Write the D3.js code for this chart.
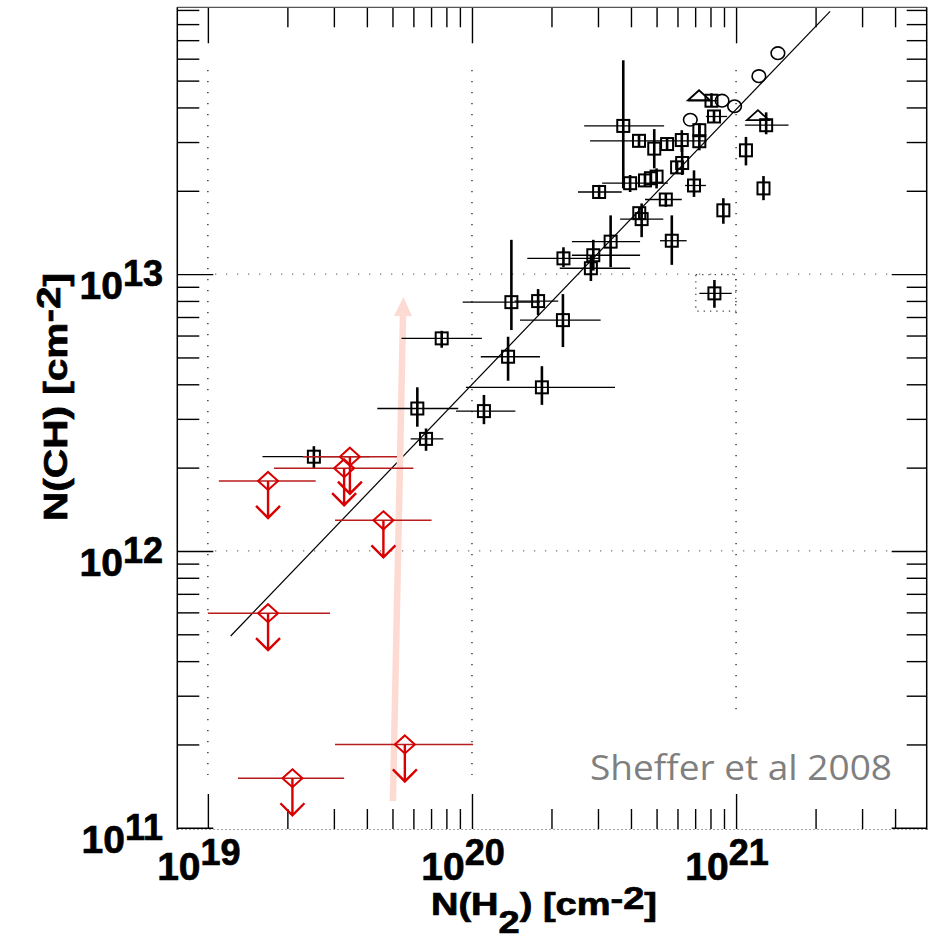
<!DOCTYPE html>
<html>
<head>
<meta charset="utf-8">
<script src="https://cdn.jsdelivr.net/npm/d3@7"></script>
<style>
  body { margin: 0; background: #fff; }
  svg { display: block; }
  text { font-family: "Liberation Sans", Arial, sans-serif; }
  .heavy { stroke: #000; stroke-width: 0.7px; }
</style>
</head>
<body>
<svg id="chart" width="934" height="941"></svg>
<script>
// N(CH) against N(H2), after Sheffer et al 2008

// detections: [N(H2), N(CH), xlo, xhi, ylo, yhi]  (null = no bar)
const detections = [
  [2.52e19, 2.19e12, 1.61e19, 4.11e19, 1.99e12, 2.39e12],
  [6.70e19, 2.54e12, 5.86e19, 7.79e19, 2.30e12, 2.77e12],
  [6.21e19, 3.27e12, 4.38e19, 8.87e19, 2.81e12, 3.90e12],
  [1.11e20, 3.20e12, 8.70e19, 1.46e20, 2.87e12, 3.66e12],
  [7.68e19, 5.86e12, 5.41e19, 1.09e20, 5.42e12, 6.24e12],
  [1.37e20, 5.03e12, 1.08e20, 1.81e20, 4.12e12, 5.94e12],
  [1.41e20, 7.92e12, 9.22e19, 1.81e20, 6.28e12, 1.33e13],
  [1.78e20, 7.99e12, 1.45e20, 2.12e20, 7.11e12, 8.83e12],
  [2.21e20, 6.82e12, 1.52e20, 3.07e20, 5.45e12, 8.47e12],
  [1.84e20, 3.90e12, 9.49e19, 3.48e20, 3.37e12, 4.65e12],
  [2.22e20, 1.14e13, 1.62e20, 3.05e20, 1.06e13, 1.25e13],
  [2.88e20, 1.17e13, 2.39e20, 4.33e20, 1.03e13, 1.33e13],
  [2.82e20, 1.05e13, 2.15e20, 3.97e20, 9.44e12, 1.17e13],
  [3.35e20, 1.31e13, 2.39e20, 4.33e20, 1.06e13, 1.63e13],
  [5.71e20, 1.32e13, 5.15e20, 6.50e20, 1.08e13, 1.63e13],
  [4.39e20, 1.58e13, 3.64e20, 5.30e20, 1.36e13, 1.80e13],
  [4.30e20, 1.66e13, null, null, null, null],
  [5.42e20, 1.86e13, 4.52e20, 6.23e20, 1.75e13, 1.96e13],
  [6.93e20, 2.09e13, 6.41e20, 7.69e20, 1.90e13, 2.37e13],
  [3.03e20, 1.98e13, 2.52e20, 3.69e20, 1.88e13, 2.10e13],
  [3.97e20, 2.13e13, 3.11e20, 5.52e20, 1.98e13, 2.28e13],
  [4.52e20, 2.18e13, null, null, 2.08e13, 2.28e13],
  [4.76e20, 2.22e13, null, null, 2.12e13, 2.32e13],
  [5.00e20, 2.25e13, null, null, 2.04e13, 2.41e13],
  [3.74e20, 3.43e13, 2.66e20, 5.34e20, 2.04e13, 5.92e13],
  [4.29e20, 3.03e13, 2.80e20, 7.74e20, null, null],
  [4.90e20, 2.84e13, null, null, 2.41e13, 3.34e13],
  [5.48e20, 2.95e13, null, null, 2.80e13, 3.10e13],
  [6.23e20, 3.05e13, null, null, 2.76e13, 3.31e13],
  [7.26e20, 3.02e13, null, null, 2.80e13, 3.51e13],
  [7.26e20, 3.31e13, null, null, 3.15e13, 3.48e13],
  [8.25e20, 3.71e13, 7.69e20, 9.25e20, 3.55e13, 3.88e13],
  [8.07e20, 4.23e13, 6.58e20, 8.50e20, 4.04e13, 4.50e13],
  [6.25e20, 2.52e13, null, null, 2.28e13, 2.87e13],
  [5.98e20, 2.43e13, null, null, 2.35e13, 2.52e13],
  [1.09e21, 2.80e13, null, null, 2.47e13, 3.13e13],
  [1.27e21, 2.04e13, null, null, 1.85e13, 2.26e13],
  [1.30e21, 3.45e13, 1.08e21, 1.58e21, 3.20e13, 3.84e13],
  [8.95e20, 1.70e13, null, null, 1.52e13, 1.88e13],
  [8.28e20, 8.52e12, 7.26e20, 9.63e20, 7.56e12, 9.52e12]
];

// open circles (no bars)
const circles = [
  [1.44e21, 6.28e13],
  [1.22e21, 5.19e13],
  [9.87e20, 4.04e13],
  [8.85e20, 4.23e13],
  [6.71e20, 3.61e13]
];

// open triangles
const triangles = [
  [7.24e20, 4.39e13],
  [1.21e21, 3.72e13]
];

// upper limits: [N(H2), N(CH) limit, xlo, xhi]
const upperLimits = [
  [1.69e19, 1.79e12, 1.10e19, 2.56e19],
  [3.45e19, 2.19e12, 2.29e19, 5.20e19],
  [3.28e19, 1.99e12, 1.78e19, 6.00e19],
  [4.62e19, 1.29e12, 3.03e19, 7.03e19],
  [1.69e19, 5.96e11, 1.00e19, 2.90e19],
  [5.57e19, 2.00e11, 3.03e19, 1.01e20],
  [2.09e19, 1.51e11, 1.30e19, 3.28e19]
];

const fitLine = [[1.22e19, 4.93e11], [2.27e21, 8.89e13]];
const trendArrow = [[5.02e19, 1.25e11], [5.50e19, 8.26e12]];
const outlierBox = [[7.04e20, 9.95e12], [9.97e20, 7.35e12]];

const xMajor = [1e19, 1e20, 1e21];
const xMinor = [2e19, 3e19, 4e19, 5e19, 6e19, 7e19, 8e19, 9e19,
                2e20, 3e20, 4e20, 5e20, 6e20, 7e20, 8e20, 9e20,
                2e21, 3e21, 4e21];
const yMajor = [1e11, 1e12, 1e13];
const yMinor = [2e11, 3e11, 4e11, 5e11, 6e11, 7e11, 8e11, 9e11,
                2e12, 3e12, 4e12, 5e12, 6e12, 7e12, 8e12, 9e12,
                2e13, 3e13, 4e13, 5e13, 6e13, 7e13, 8e13, 9e13];
const xExp = ["19", "20", "21"];
const yExp = ["11", "12", "13"];

const svg = d3.select('#chart');
const pLeft = 177.3, pRight = 926.7, pTop = 7.3, pBottom = 829;

const x = d3.scaleLog().domain([7.66e18, 5.27e21]).range([pLeft, pRight]);
const y = d3.scaleLog().domain([9.9e10, 9.2e13]).range([pBottom, pTop]);

// dotted grid
const grid = svg.append('g').attr('fill', 'none');
[[1e19, 70, 775], [1e20, 70, 775], [1e21, 70, 710]].forEach(([v, a, b]) => {
  grid.append('line').attr('x1', x(v)).attr('x2', x(v)).attr('y1', a).attr('y2', b)
    .attr('stroke', '#222').attr('stroke-width', 1.3).attr('stroke-dasharray', '1.3,9.7');
});
[1e13, 1e12].forEach(v => {
  grid.append('line').attr('x1', 215).attr('x2', 890).attr('y1', y(v)).attr('y2', y(v))
    .attr('stroke', '#777').attr('stroke-width', 1.3).attr('stroke-dasharray', '1.3,9.7');
});
// box round the odd point
grid.append('rect')
  .attr('x', x(outlierBox[0][0])).attr('y', y(outlierBox[0][1]))
  .attr('width', x(outlierBox[1][0]) - x(outlierBox[0][0]))
  .attr('height', y(outlierBox[1][1]) - y(outlierBox[0][1]))
  .attr('stroke', '#444').attr('stroke-width', 1.2).attr('stroke-dasharray', '1.3,5');

// ticks, all pointing inwards
function ticks(axis, values, size, tr) {
  const g = svg.append('g').attr('transform', tr)
    .call(axis.tickValues(values).tickSize(size).tickFormat(''));
  g.select('.domain').remove();
  g.selectAll('line').attr('stroke', '#000').attr('stroke-width', 1.4);
}
ticks(d3.axisTop(x), xMajor, 35, `translate(0,${pBottom})`);
ticks(d3.axisTop(x), xMinor, 20, `translate(0,${pBottom})`);
ticks(d3.axisBottom(x), xMajor, 36, `translate(0,${pTop})`);
ticks(d3.axisBottom(x), xMinor, 20, `translate(0,${pTop})`);
ticks(d3.axisRight(y), yMajor, 36, `translate(${pLeft},0)`);
ticks(d3.axisRight(y), yMinor, 22, `translate(${pLeft},0)`);
ticks(d3.axisLeft(y), yMajor, 35, `translate(${pRight},0)`);
ticks(d3.axisLeft(y), yMinor, 20, `translate(${pRight},0)`);

// frame
svg.append('line').attr('x1', pLeft).attr('x2', pRight).attr('y1', pTop).attr('y2', pTop)
  .attr('stroke', '#555').attr('stroke-width', 1.2);
svg.append('line').attr('x1', pLeft).attr('x2', pLeft).attr('y1', pTop).attr('y2', pBottom + 1)
  .attr('stroke', '#000').attr('stroke-width', 1.5);
svg.append('line').attr('x1', pRight).attr('x2', pRight).attr('y1', pTop).attr('y2', pBottom + 1)
  .attr('stroke', '#000').attr('stroke-width', 1.5);
svg.append('line').attr('x1', pLeft).attr('x2', pRight).attr('y1', pBottom + 0.5).attr('y2', pBottom + 0.5)
  .attr('stroke', '#888').attr('stroke-width', 1.2).attr('stroke-dasharray', '1.5,2.5');

// fit
svg.append('path').datum(fitLine)
  .attr('d', d3.line().x(d => x(d[0])).y(d => y(d[1])))
  .attr('stroke', '#000').attr('stroke-width', 1.2).attr('fill', 'none');

// pale trend arrow
const a0 = [x(trendArrow[0][0]), y(trendArrow[0][1])];
const a1 = [x(trendArrow[1][0]), y(trendArrow[1][1])];
const len = Math.hypot(a1[0] - a0[0], a1[1] - a0[1]);
const ux = (a1[0] - a0[0]) / len, uy = (a1[1] - a0[1]) / len;
const hb = [a1[0] - ux * 19, a1[1] - uy * 19];
svg.append('line').attr('x1', a0[0]).attr('y1', a0[1]).attr('x2', hb[0]).attr('y2', hb[1])
  .attr('stroke', '#fddbd2').attr('stroke-width', 6.5);
svg.append('path')
  .attr('d', `M${a1[0]},${a1[1]} L${hb[0] - uy * 9},${hb[1] + ux * 9} L${hb[0] + uy * 9},${hb[1] - ux * 9} Z`)
  .attr('fill', '#fddbd2');

// detections
const det = svg.append('g').attr('fill', 'none').attr('stroke', '#000');
const dg = det.selectAll('g').data(detections).join('g');
dg.filter(d => d[2] !== null).append('line')
  .attr('x1', d => x(d[2])).attr('x2', d => x(d[3]))
  .attr('y1', d => y(d[1])).attr('y2', d => y(d[1]))
  .attr('stroke-width', 1.3);
dg.append('rect')
  .attr('x', d => x(d[0]) - 6).attr('y', d => y(d[1]) - 6)
  .attr('width', 12).attr('height', 12).attr('stroke-width', 2);
dg.append('line')
  .attr('x1', d => x(d[0])).attr('x2', d => x(d[0]))
  .attr('y1', d => d[4] !== null ? Math.max(y(d[4]), y(d[1]) + 6) : y(d[1]) + 6)
  .attr('y2', d => d[5] !== null ? Math.min(y(d[5]), y(d[1]) - 6) : y(d[1]) - 6)
  .attr('stroke-width', 2.6);

det.selectAll('ellipse').data(circles).join('ellipse')
  .attr('cx', d => x(d[0])).attr('cy', d => y(d[1])).attr('rx', 6.8).attr('ry', 6.3)
  .attr('stroke-width', 1.6);

det.selectAll('path.tri').data(triangles).join('path').attr('class', 'tri')
  .attr('d', d => {
    const px = x(d[0]), py = y(d[1]);
    return `M${px - 11},${py + 4} L${px},${py - 6} L${px + 11},${py + 4} Z`;
  })
  .attr('stroke-width', 1.8);

// upper limits
const lg = svg.append('g').attr('fill', 'none').selectAll('g').data(upperLimits).join('g');
lg.append('line')
  .attr('x1', d => x(d[2])).attr('x2', d => x(d[3]))
  .attr('y1', d => y(d[1])).attr('y2', d => y(d[1]))
  .attr('stroke', '#b81c1c').attr('stroke-width', 1.5);
lg.append('path')
  .attr('d', d => {
    const px = x(d[0]), py = y(d[1]);
    return `M${px},${py - 9} L${px + 10},${py} L${px},${py + 9} L${px - 10},${py} Z`;
  })
  .attr('stroke', '#d80000').attr('stroke-width', 2);
lg.append('path')
  .attr('d', d => {
    const px = x(d[0]), py = y(d[1]);
    return `M${px},${py} L${px},${py + 37} M${px - 12},${py + 25} L${px},${py + 37} L${px + 12},${py + 25}`;
  })
  .attr('stroke', '#d80000').attr('stroke-width', 2.4);

// tick labels
svg.selectAll('text.ylab').data(yMajor).join('text').attr('class', 'ylab heavy')
  .attr('x', 163).attr('y', d => y(d) + 25)
  .attr('text-anchor', 'end').attr('font-weight', 'bold').attr('font-size', 39)
  .each(function (d, i) {
    const t = d3.select(this);
    t.append('tspan').text('10');
    t.append('tspan').attr('dy', -13).attr('font-size', 36).text(yExp[i]);
  });
svg.selectAll('text.xlab').data(xMajor).join('text').attr('class', 'xlab heavy')
  .attr('x', d => x(d) - 9).attr('y', 880)
  .attr('text-anchor', 'middle').attr('font-weight', 'bold').attr('font-size', 39)
  .each(function (d, i) {
    const t = d3.select(this);
    t.append('tspan').text('10');
    t.append('tspan').attr('dy', -15).attr('font-size', 36).text(xExp[i]);
  });

// axis titles (the original face is wide, so stretch to its length)
const xt = svg.append('text').attr('class', 'heavy').attr('x', 544).attr('y', 915)
  .attr('text-anchor', 'middle').attr('font-weight', 'bold').attr('font-size', 31)
  .attr('textLength', 226).attr('lengthAdjust', 'spacingAndGlyphs');
xt.append('tspan').text('N(H');
xt.append('tspan').attr('dy', 18).text('2');
xt.append('tspan').attr('dy', -18).text(') [cm');
xt.append('tspan').attr('dy', -6).text('-2');
xt.append('tspan').attr('dy', 6).text(']');

const yt = svg.append('text').attr('class', 'heavy').attr('transform', 'translate(67,397) rotate(-90)')
  .attr('text-anchor', 'middle').attr('font-weight', 'bold').attr('font-size', 34)
  .attr('textLength', 248).attr('lengthAdjust', 'spacingAndGlyphs');
yt.append('tspan').text('N(CH) [cm');
yt.append('tspan').attr('dy', -7).text('-2');
yt.append('tspan').attr('dy', 7).text(']');

svg.append('text').attr('x', 590).attr('y', 780)
  .attr('fill', '#7f7f7f').attr('font-size', 34)
  .style('font-family', '"Open Sans", "Noto Sans", sans-serif')
  .attr('textLength', 302).attr('lengthAdjust', 'spacingAndGlyphs')
  .text('Sheffer et al 2008');
</script>
</body>
</html>
